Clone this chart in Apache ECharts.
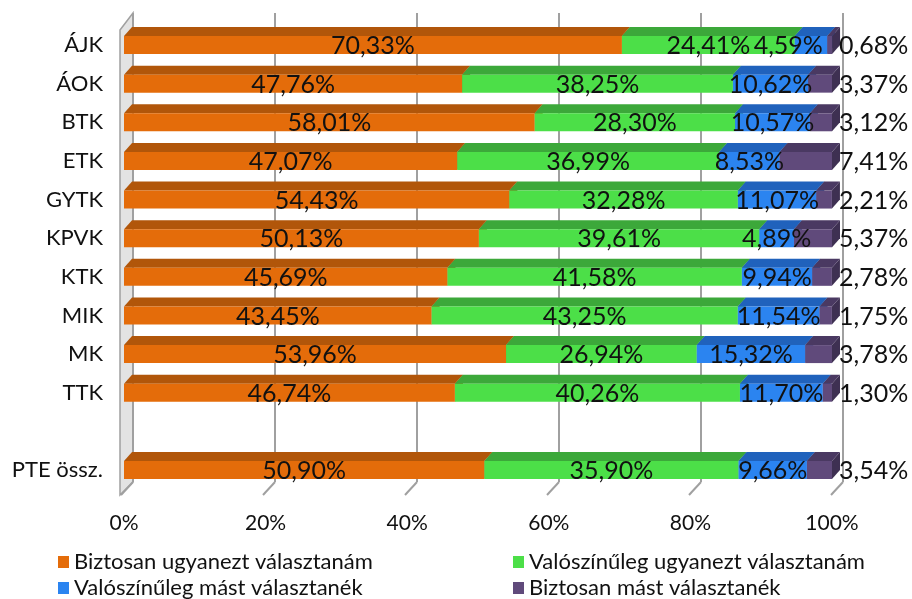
<!DOCTYPE html>
<html><head><meta charset="utf-8">
<script src="https://cdn.jsdelivr.net/npm/echarts@6/dist/echarts.min.js"></script>
<style>html,body{margin:0;padding:0;background:#fff}#c{width:912px;height:599px}</style>
</head><body><div id="c"></div>
<script>
var categories = ['ÁJK','ÁOK','BTK','ETK','GYTK','KPVK','KTK','MIK','MK','TTK','','PTE össz.'];
var seriesNames = ['Biztosan ugyanezt választanám','Valószínűleg ugyanezt választanám','Valószínűleg mást választanék','Biztosan mást választanék'];
var biztosanUgyanezt = [70.33,47.76,58.01,47.07,54.43,50.13,45.69,43.45,53.96,46.74,null,50.90];
var valoszinulegUgyanezt = [24.41,38.25,28.30,36.99,32.28,39.61,41.58,43.25,26.94,40.26,null,35.90];
var valoszinulegMast = [4.59,10.62,10.57,8.53,11.07,4.89,9.94,11.54,15.32,11.70,null,9.66];
var biztosanMast = [0.68,3.37,3.12,7.41,2.21,5.37,2.78,1.75,3.78,1.30,null,3.54];
var xTicks = [0,20,40,60,80,100];

var values = [biztosanUgyanezt, valoszinulegUgyanezt, valoszinulegMast, biztosanMast];
var fronts = ['#E46C0A','#4CDF48','#2B84F0','#604A7B'];
var tops = ['#B1560A','#3CA83A','#2062BC','#4A3962'];
var sides = ['#9E4C08','#35973A','#1D56A6','#3E3052'];

var chart = echarts.init(document.getElementById('c'));
var FONT = 'Lato';
var H = 9, DX = 8, DY = 9;
var LABEL_SIZE = 25;

function fmt(v){ return v.toFixed(2).replace('.', ',') + '%'; }

var cum = categories.map(function(){ return 0; });
var series = values.map(function(arr, si){
  var data = [];
  arr.forEach(function(v, ci){
    if (v == null) return;
    data.push([ci, cum[ci], cum[ci] + v, v]);
    cum[ci] += v;
  });
  return {
    type: 'custom', name: seriesNames[si], xAxisIndex: 0, yAxisIndex: 0,
    itemStyle: { color: fronts[si] },
    encode: { x: [1,2], y: 0 },
    data: data,
    z: 3,
    renderItem: function(params, api){
      var ci = api.value(0), s = api.value(1), e = api.value(2), v = api.value(3);
      var p0 = api.coord([s, ci]), p1 = api.coord([e, ci]);
      var pEnd = api.coord([100, ci]);
      var x0 = p0[0], x1 = p1[0], yc = p0[1];
      var children = [
        { type: 'polygon', shape: { points: [[x1, yc-H],[x1+DX, yc-H-DY],[x1+DX, yc+H-DY],[x1, yc+H]] }, style: { fill: sides[si] } },
        { type: 'polygon', shape: { points: [[x0, yc-H],[x1, yc-H],[x1+DX, yc-H-DY],[x0+DX, yc-H-DY]] }, style: { fill: tops[si] } },
        { type: 'rect', shape: { x: x0, y: yc-H, width: x1-x0, height: 2*H }, style: { fill: fronts[si] } }
      ];
      var txt = fmt(v);
      var tx, align = 'center';
      if (si === 3) { tx = pEnd[0] + 7; align = 'left'; }
      else {
        tx = (x0 + x1) / 2;
        var tw = txt.length * 13.5;
        if (tx + tw/2 > pEnd[0] - 10) tx = pEnd[0] - 10 - tw/2;
      }
      children.push({ type: 'text', z2: 100, style: { text: txt, x: tx, y: yc + 1, align: align, verticalAlign: 'middle', fill: '#111', font: LABEL_SIZE + 'px ' + FONT } });
      return { type: 'group', children: children };
    }
  };
});

series.push({
  type: 'custom', xAxisIndex: 1, yAxisIndex: 1, z: 1, silent: true,
  data: xTicks.map(function(t){ return [t, 0]; }),
  encode: { x: 0, y: 1 },
  renderItem: function(params, api){
    var p = api.coord([api.value(0), 0]);
    return { type: 'line', shape: { x1: p[0], y1: p[1], x2: p[0]-12, y2: p[1]+13 }, style: { stroke: '#a0a0a0', lineWidth: 2 } };
  }
});

function leg(name, left, top){
  return { left: left, top: top, orient: 'horizontal', itemWidth: 11, itemHeight: 12, itemGap: 8, icon: 'rect',
    textStyle: { fontSize: 22, color: '#111', fontFamily: FONT }, data: [name] };
}

chart.setOption({
  animation: false,
  textStyle: { fontFamily: FONT },
  grid: [
    { left: 124, right: 80, top: 25.7, bottom: 109.7 },
    { left: 133, right: 69, top: 13, bottom: 117 }
  ],
  xAxis: [
    { type: 'value', gridIndex: 0, min: 0, max: 100, interval: 20,
      axisLabel: { formatter: '{value}%', fontSize: 21, color: '#111', margin: 23 },
      axisLine: { show: false }, axisTick: { show: false }, splitLine: { show: false } },
    { type: 'value', gridIndex: 1, min: 0, max: 100, interval: 20,
      axisLabel: { show: false }, axisLine: { show: false }, axisTick: { show: false },
      splitLine: { show: true, lineStyle: { color: '#a0a0a0', width: 2 } } }
  ],
  yAxis: [
    { type: 'category', gridIndex: 0, data: categories, inverse: true,
      axisLabel: { fontSize: 22, color: '#111', margin: 21 },
      axisLine: { show: false }, axisTick: { show: false }, splitLine: { show: false } },
    { type: 'value', gridIndex: 1, min: 0, max: 1, show: false, splitLine: { show: false } }
  ],
  graphic: [
    { type: 'polygon', z: 0, shape: { points: [[120,30],[133,13],[133,482],[120,495]] },
      style: { fill: '#e3e3e3', stroke: '#a0a0a0', lineWidth: 1.5 } }
  ],
  legend: [
    leg(seriesNames[0], 53, 546),
    leg(seriesNames[2], 53, 572),
    leg(seriesNames[1], 508, 546),
    leg(seriesNames[3], 508, 572)
  ],
  series: series
});
</script>
</body></html>
